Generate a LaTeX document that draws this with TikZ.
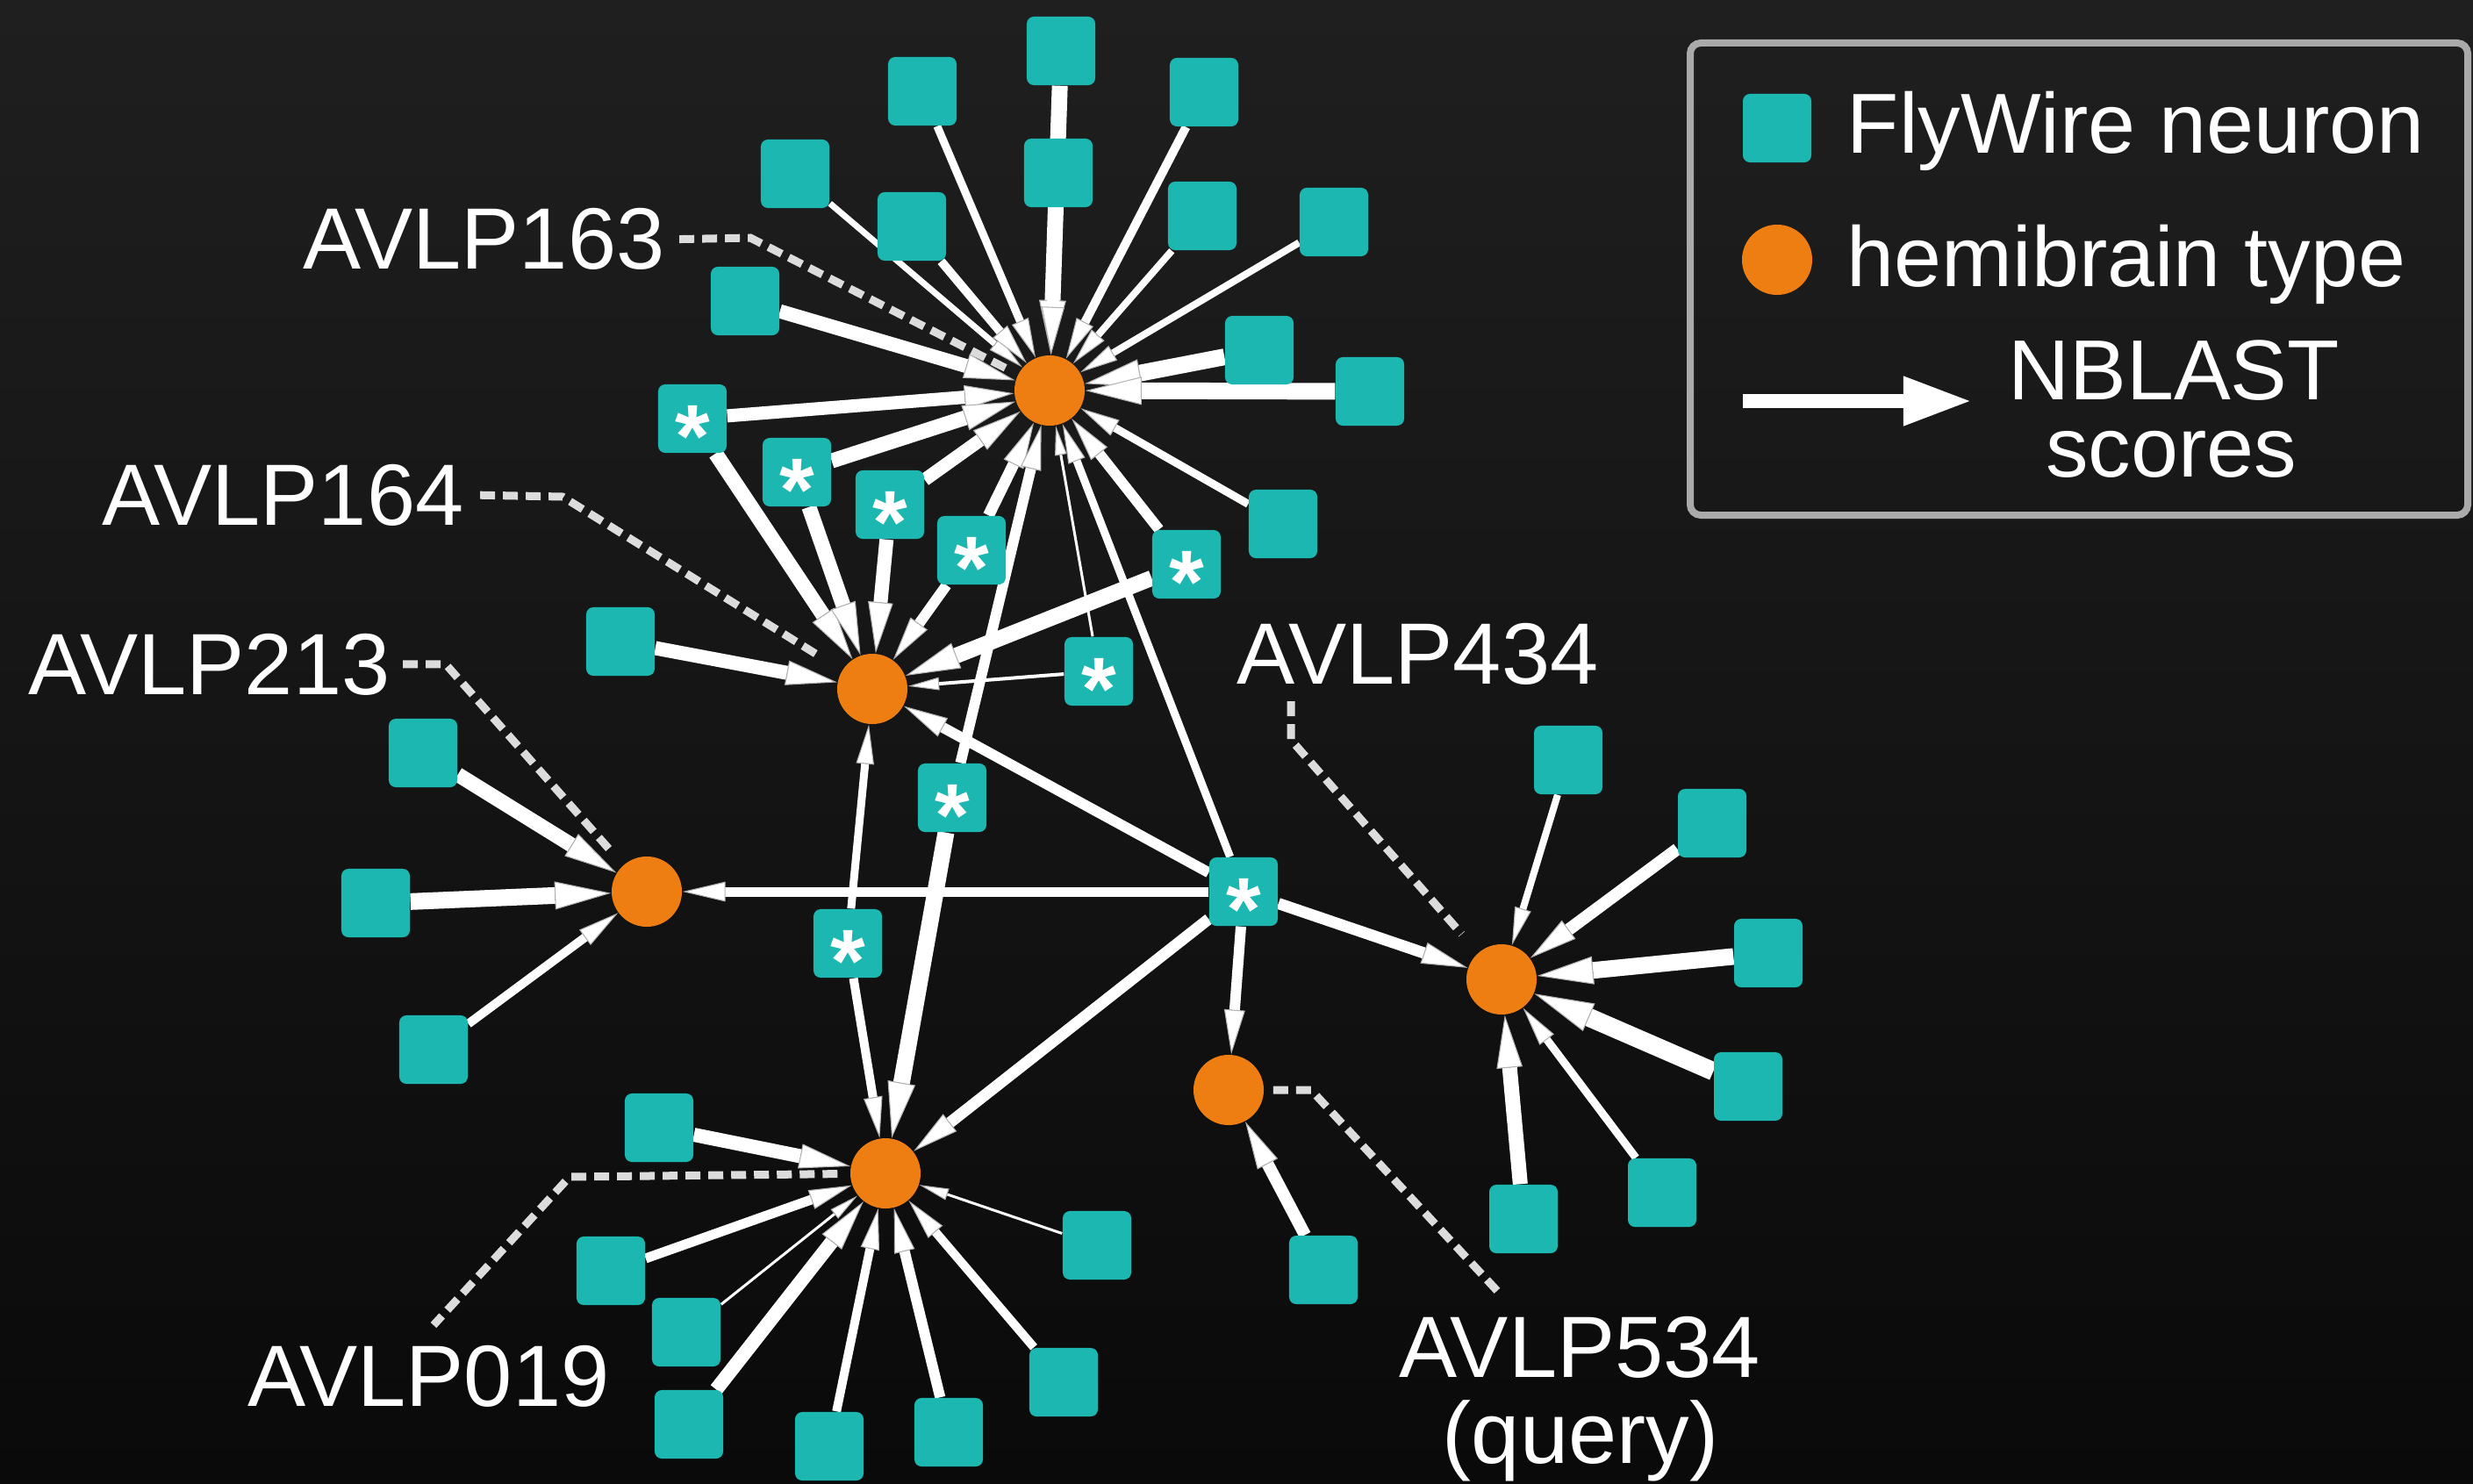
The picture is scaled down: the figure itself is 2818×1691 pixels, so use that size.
\documentclass[tikz,border=0pt]{standalone}
\usepackage{fontspec}
\setmainfont{Liberation Sans}
\usetikzlibrary{arrows.meta}
\definecolor{fwteal}{RGB}{27,183,176}
\definecolor{hbor}{RGB}{238,125,18}
\definecolor{leadgray}{RGB}{220,220,220}
\definecolor{keygray}{RGB}{170,170,170}
\definecolor{bgtop}{RGB}{31,31,31}
\definecolor{bgbot}{RGB}{10,10,10}
\pgfdeclarelayer{back}
\pgfdeclarelayer{edges}
\pgfsetlayers{back,edges,main}

\begin{document}
\begin{tikzpicture}[x=0.01cm, y=-0.01cm,
    nrn/.style={fill=fwteal, rounded corners=2.3pt, minimum size=0.78cm, inner sep=0pt},
    star/.style={nrn, label={[text=white, font=\fontsize{29pt}{29pt}\selectfont\bfseries, inner sep=0pt, yshift=-0.2cm]center:*}},
    hb/.style={circle, fill=hbor, minimum size=0.8cm, inner sep=0pt},
    lab/.style={text=white, font=\fontsize{28.2pt}{28pt}\selectfont, inner sep=0pt},
    key/.style={text=white, font=\fontsize{27.6pt}{28pt}\selectfont, inner sep=0pt},
    lead/.style={draw=leadgray, line width=0.09cm, dash pattern=on 0.17cm off 0.09cm}]
  \useasboundingbox (0,0) rectangle (2818,1691);
  \begin{pgfonlayer}{back}
    \shade[top color=bgtop, bottom color=bgbot] (0,0) rectangle (2818,1691);
  \end{pgfonlayer}

  % Hemibrain types
  \node[hb] (h163) at (1196,445) {};
  \node[hb] (h164) at (994,785) {};
  \node[hb] (h213) at (737,1016) {};
  \node[hb] (h019) at (1009,1337) {};
  \node[hb] (h534) at (1400,1242) {};
  \node[hb] (h434) at (1711,1116) {};

  % FlyWire neurons
  \foreach \n/\x/\y in {n1/1209/58, n2/1051/104, n3/1372/105, n4/1206/197,
      n5/906/198, n6/1039/258, n7/1370/246, n8/1520/253, n9/849/343,
      n10/1435/399, n11/1561/446, n12/1462/597, n13/707/731, n14/482/858,
      n15/428/1029, n16/494/1196, n17/751/1285, n18/696/1448, n19/782/1518,
      n20/785/1623, n21/945/1648, n22/1081/1632, n23/1212/1575, n24/1250/1419,
      n25/1508/1447, n26/1787/866, n27/1951/938, n28/2015/1086, n29/1992/1238,
      n30/1894/1359, n31/1736/1389} {
    \node[nrn] (\n) at (\x,\y) {};
  }
  % Neurons matched to more than one type
  \foreach \n/\x/\y in {s1/789/477, s2/908/538, s3/1014/575, s4/1107/627,
      s5/1352/643, s6/1252/765, s7/1085/909, s8/966/1075, s9/1417/1016} {
    \node[star] (\n) at (\x,\y) {};
  }

  % NBLAST edges, width = score
  \begin{pgfonlayer}{edges}
    \foreach \a/\b/\w in {n1/h163/18, n2/h163/9, n3/h163/10, n4/h163/14,
        n5/h163/7, n6/h163/10, n7/h163/8, n8/h163/8, n9/h163/16, n10/h163/19,
        n11/h163/19, n12/h163/9, s1/h163/15, s2/h163/17, s3/h163/15,
        s4/h163/13, s5/h163/12, s6/h163/3, s7/h163/12, s9/h163/9,
        s1/h164/17, s2/h164/17, s3/h164/16, s4/h164/12, s5/h164/18,
        s6/h164/4, n13/h164/16, s9/h164/12, s8/h164/9,
        n14/h213/17, n15/h213/19, n16/h213/10, s9/h213/11,
        s8/h019/10, s7/h019/19, s9/h019/13, n17/h019/16, n18/h019/11,
        n19/h019/3, n20/h019/16, n21/h019/10, n22/h019/12, n23/h019/10,
        n24/h019/3, s9/h534/12, n25/h534/14,
        s9/h434/13, n26/h434/8, n27/h434/14, n28/h434/19, n29/h434/21,
        n30/h434/9, n31/h434/17} {
      \pgfmathsetmacro{\tl}{(28+1.9*\w)*0.2845}
      \pgfmathsetmacro{\tw}{(10+1.15*\w)*0.2845}
      \draw[white, line width=\w*0.2845pt,
        -{Triangle[length=\tl pt, width=\tw pt, line width=0.3pt, color=white!70!black, fill=white]}]
        (\a) -- (\b);
    }
  \end{pgfonlayer}

  % Labels and their leaders
  \node[lab, anchor=base west] (l163) at (345,307) {AVLP163};
  \node[lab, anchor=base west] (l164) at (116,598) {AVLP164};
  \node[lab, anchor=base west] (l213) at (32,791) {AVLP213};
  \node[lab, anchor=base west] (l434) at (1409,779) {AVLP434};
  \node[lab, anchor=base west] (l019) at (282,1602) {AVLP019};
  \node[lab, anchor=base] (l534) at (1800,1569) {AVLP534};
  \node[lab, anchor=base] (l534q) at (1801,1667) {(query)};

  \coordinate (k163) at (855,271);
  \coordinate (k164) at (641,566);
  \coordinate (k213) at (508,757);
  \coordinate (k434a) at (1471,799);
  \coordinate (k434b) at (1471,843);
  \coordinate (k019a) at (649,1341);
  \coordinate (k019b) at (494,1510);
  \coordinate (k534a) at (1494,1242);
  \coordinate (k534b) at (1708,1473);
  \draw[lead, shorten <=0.16cm, shorten >=0.08cm] (l163.east) -- (k163) -- (h163);
  \draw[lead, shorten <=0.18cm, shorten >=0.28cm] (l164.east) -- (k164) -- (h164);
  \draw[lead, shorten <=0.14cm, shorten >=0.2cm] (l213.east) -- (k213) -- (h213);
  \draw[lead, shorten >=0.28cm] (k434a) -- (k434b) -- (h434);
  \draw[lead, shorten <=0.14cm] (h019) -- (k019a) -- (k019b);
  \draw[lead, shorten <=0.1cm] (h534) -- (k534a) -- (k534b);

  % Legend
  \draw[keygray, line width=0.08cm, rounded corners=3.4pt] (1926,49) rectangle (2812,587);
  \node[nrn] (kn) at (2025,146) {};
  \node[hb] (kh) at (2025,296) {};
  \coordinate (ka) at (1986,457);
  \coordinate (kb) at (2247,457);
  \draw[white, line width=0.16cm, -{Triangle[length=0.78cm, width=0.52cm]}] (ka) -- (kb);
  \node[key, anchor=base west] (kt1) at (2104,175) {FlyWire neuron};
  \node[key, anchor=base west] (kt2) at (2104,327) {hemibrain type};
  \node[key, anchor=base] (kt3) at (2477,455) {NBLAST};
  \node[key, anchor=base] (kt4) at (2474,543) {scores};
\end{tikzpicture}
\end{document}
